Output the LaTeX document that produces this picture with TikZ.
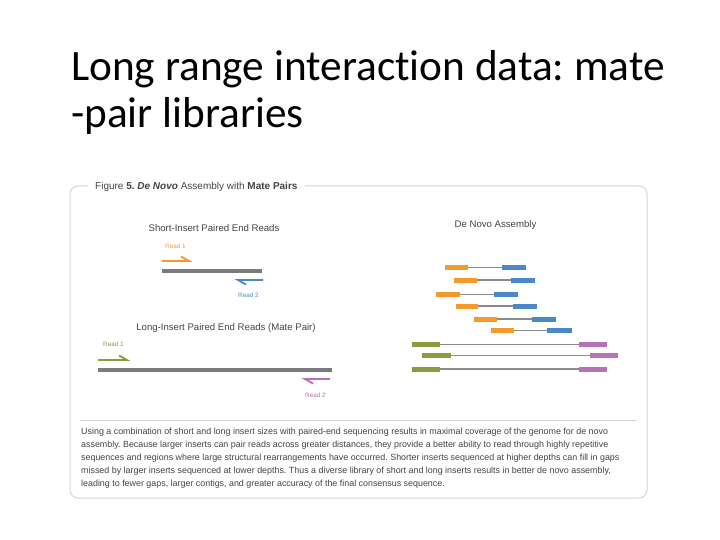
\documentclass[tikz,border=0pt]{standalone}
\usepackage{fontspec}
\setmainfont[Ligatures=NoCommon]{Carlito}
\newfontfamily\hv{Liberation Sans}
\frenchspacing
\definecolor{cor}{HTML}{F39A2B}
\definecolor{cbl}{HTML}{4A88C7}
\definecolor{cgr}{HTML}{8C9B3E}
\definecolor{cpu}{HTML}{B870B8}
\definecolor{cbar}{HTML}{7A7B7E}
\definecolor{clink}{HTML}{8A8B8E}
\definecolor{cframe}{HTML}{D4D4D4}
\definecolor{ctxt}{HTML}{444444}
\tikzset{
  slidetitle/.style={anchor=base west, inner sep=0pt, font=\fontsize{43.3}{43}\selectfont, text=black},
  captext/.style={anchor=base west, inner sep=0pt, font=\hv\fontsize{8.9}{10}\selectfont, text=ctxt},
  subtitle/.style={anchor=base, inner sep=0pt, font=\hv\fontsize{9.6}{11}\selectfont, text=ctxt},
  readlbl/.style={anchor=base west, inner sep=0pt, font=\hv\fontsize{6.3}{7}\selectfont},
  insertbar/.style={line width=4pt, draw=cbar},
  harp/.style={line width=1.8pt},
  seg/.style={line width=5pt},
}
\begin{document}
\begin{tikzpicture}[x=1pt,y=-1pt]
\useasboundingbox[fill=white] (0,0) rectangle (720,540);
% slide title
\node[slidetitle] (t1) at (71,81) {Long range interaction data: mate};
\node[slidetitle] (t2) at (71,128) {-pair libraries};
% frame
\draw[cframe, line width=1pt, rounded corners=8pt] (88,186) -- (70,186) -- (70,498) -- (647,498) -- (647,186) -- (305,186);
\node[anchor=base west, inner sep=0pt, font=\hv\fontsize{10}{11}\selectfont, text=ctxt] (ftitle) at (95,189.5)
  {Figure \textbf{5.} \textbf{\itshape De Novo} Assembly with \textbf{Mate Pairs}};
% short insert
\node[subtitle] (s1) at (214,231) {Short-Insert Paired End Reads};
\node[readlbl, text=cor] (r1a) at (165,248) {Read 1};
\draw[harp, cor] (162,261) -- (189,261) -- (181,256.5);
\draw[insertbar] (162,270.5) -- (262,270.5);
\draw[harp, cbl] (263,280) -- (238,280) -- (246,284.5);
\node[readlbl, text=cbl] (r2a) at (238,297) {Read 2};
% long insert
\node[subtitle] (s2) at (226,330) {Long-Insert Paired End Reads (Mate Pair)};
\node[readlbl, text=cgr] (r1b) at (103,346) {Read 1};
\draw[harp, cgr] (98,360) -- (127,360) -- (119,355.5);
\draw[insertbar] (98,370) -- (332,370);
\draw[harp, cpu] (330,379) -- (305,379) -- (313,383.5);
\node[readlbl, text=cpu] (r2b) at (305,397) {Read 2};
% de novo assembly
\node[subtitle] (dn) at (495.5,228) {De Novo Assembly};
\foreach \y/\a/\b/\c/\d/\w in {267/445/468/502/526/0.8, 280/454/477/511/535/1.2, 294/436/460/494/518/0.8, 306/456/478/513/537/1.2, 319/474/497/532/556/1.2, 330/491/514/547/572/0.8}{
  \draw[clink, line width=\w pt] (\b,\y) -- (\c,\y);
  \draw[seg, cor] (\a,\y) -- (\b,\y);
  \draw[seg, cbl] (\c,\y) -- (\d,\y);
}
\foreach \y/\a/\b/\c/\d/\w in {344/412/440/579/607/1, 355/422/451/590/618/1, 369/412/440/579/607/1.2}{
  \draw[clink, line width=\w pt] (\b,\y) -- (\c,\y);
  \draw[seg, cgr] (\a,\y) -- (\b,\y);
  \draw[seg, cpu] (\c,\y) -- (\d,\y);
}
% separator and caption
\draw[cframe, line width=0.8pt] (80,420.5) -- (636,420.5);
\node[captext] (c1) at (81,434) {Using a combination of short and long insert sizes with paired-end sequencing results in maximal coverage of the genome for de novo};
\node[captext] (c2) at (81,447) {assembly. Because larger inserts can pair reads across greater distances, they provide a better ability to read through highly repetitive};
\node[captext] (c3) at (81,460) {sequences and regions where large structural rearrangements have occurred. Shorter inserts sequenced at higher depths can fill in gaps};
\node[captext] (c4) at (81,473) {missed by larger inserts sequenced at lower depths. Thus a diverse library of short and long inserts results in better de novo assembly,};
\node[captext] (c5) at (81,486) {leading to fewer gaps, larger contigs, and greater accuracy of the final consensus sequence.};
\end{tikzpicture}
\end{document}
